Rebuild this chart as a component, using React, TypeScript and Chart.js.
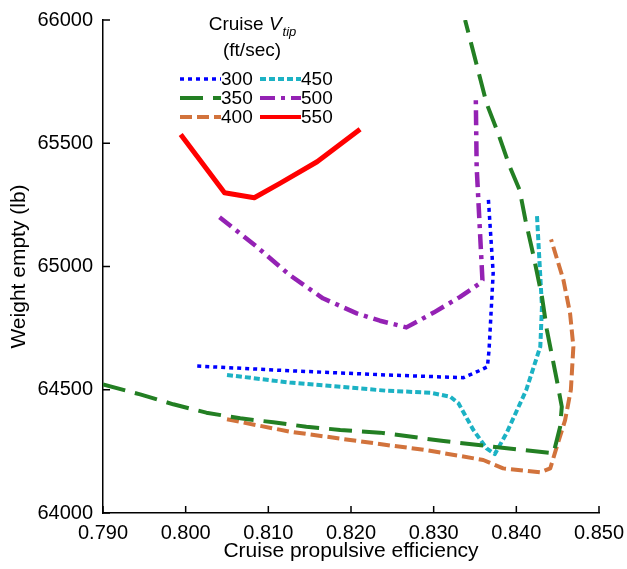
import React, { useEffect, useRef } from 'react';
import { Chart, registerables } from 'chart.js';

Chart.register(...registerables);

const seriesLabels = ['300', '350', '400', '450', '500', '550'];

const x300 = [0.8014, 0.8126, 0.8243, 0.8336, 0.8355, 0.8365, 0.8367, 0.8372, 0.8366];
const y300 = [64596, 64577, 64560, 64549, 64577, 64593, 64661, 64974, 65282];

const x350 = [0.790, 0.7945, 0.7985, 0.8025, 0.8066, 0.8106, 0.8146, 0.8187, 0.8235, 0.8312, 0.8372, 0.8445, 0.8453, 0.8455, 0.8449, 0.8437, 0.8431, 0.8421, 0.8411, 0.8404, 0.8392, 0.8378, 0.8364, 0.8338];
const y350 = [64522, 64481, 64441, 64407, 64384, 64368, 64350, 64337, 64326, 64292, 64269, 64242, 64350, 64431, 64539, 64742, 64877, 65040, 65189, 65310, 65405, 65540, 65662, 66000];

const x400 = [0.8050, 0.8126, 0.8243, 0.8291, 0.8360, 0.8384, 0.8429, 0.8441, 0.8449, 0.8459, 0.8466, 0.8469, 0.8465, 0.8457, 0.8442];
const y400 = [64380, 64330, 64276, 64255, 64215, 64181, 64165, 64181, 64269, 64377, 64500, 64675, 64810, 64945, 65110];

const x450 = [0.8050, 0.8126, 0.8243, 0.8296, 0.8320, 0.8330, 0.8348, 0.8364, 0.8374, 0.8388, 0.8412, 0.8429, 0.8431, 0.8429, 0.8425];
const y450 = [64560, 64529, 64496, 64488, 64472, 64445, 64337, 64262, 64239, 64323, 64499, 64675, 64837, 64959, 65205];

const x500 = [0.8041, 0.8086, 0.8126, 0.8166, 0.8207, 0.8235, 0.8267, 0.8300, 0.8332, 0.8356, 0.8359, 0.8352, 0.8351];
const y500 = [65200, 65080, 64965, 64871, 64810, 64780, 64753, 64813, 64877, 64932, 64945, 65404, 65675];

const x550 = [0.7994, 0.8047, 0.8083, 0.8114, 0.8159, 0.8211];
const y550 = [65536, 65299, 65279, 65337, 65425, 65557];

const xTicks = [0.79, 0.8, 0.81, 0.82, 0.83, 0.84, 0.85];
const yTicks = [64000, 64500, 65000, 65500, 66000];

const FONT = '"Liberation Sans", Arial, Helvetica, sans-serif';

const styles = [
  { color: '#0000ff', width: 3.5, dash: [4, 4] },
  { color: '#237f23', width: 4, dash: [23, 10] },
  { color: '#d2733c', width: 4, dash: [12, 5] },
  { color: '#1cb2c4', width: 4, dash: [6, 3] },
  { color: '#9422b4', width: 4.5, dash: [15, 6, 4, 6] },
  { color: '#ff0000', width: 5, dash: [] as number[] },
];

const xs = [x300, x350, x400, x450, x500, x550];
const ys = [y300, y350, y400, y450, y500, y550];

const inwardTicks = {
  id: 'inwardTicks',
  afterDraw(chart: any) {
    const ctx = chart.ctx;
    const xsc = chart.scales.x;
    const ysc = chart.scales.y;
    const area = chart.chartArea;
    ctx.save();
    ctx.strokeStyle = '#000';
    ctx.lineWidth = 1.5;
    ctx.beginPath();
    xTicks.forEach((v) => {
      const px = xsc.getPixelForValue(v);
      ctx.moveTo(px, area.bottom);
      ctx.lineTo(px, area.bottom - 7);
    });
    yTicks.forEach((v) => {
      const py = ysc.getPixelForValue(v);
      ctx.moveTo(area.left, py);
      ctx.lineTo(area.left + 7, py);
    });
    ctx.stroke();
    ctx.restore();
  },
};

const customLegend = {
  id: 'customLegend',
  afterDraw(chart: any) {
    const ctx = chart.ctx;
    const area = chart.chartArea;
    const cx = area.left + 149;
    ctx.save();
    ctx.fillStyle = '#000';
    ctx.textBaseline = 'middle';
    const f1 = `19px ${FONT}`;
    const fi = `italic 19px ${FONT}`;
    const fs = `italic 13px ${FONT}`;
    ctx.font = f1;
    const w1 = ctx.measureText('Cruise ').width;
    ctx.font = fi;
    const w2 = ctx.measureText('V').width;
    ctx.font = fs;
    const w3 = ctx.measureText('tip').width;
    let tx = cx - (w1 + w2 + w3) / 2;
    const ty = area.top + 5;
    ctx.textAlign = 'left';
    ctx.font = f1;
    ctx.fillText('Cruise ', tx, ty);
    tx += w1;
    ctx.font = fi;
    ctx.fillText('V', tx, ty);
    tx += w2 + 1;
    ctx.font = fs;
    ctx.fillText('tip', tx, ty + 7);
    ctx.font = f1;
    ctx.textAlign = 'center';
    ctx.fillText('(ft/sec)', cx, area.top + 31);
    ctx.textAlign = 'left';
    const rowY0 = area.top + 59;
    const rowH = 19;
    chart.data.datasets.forEach((ds: any, i: number) => {
      const col = i < 3 ? 0 : 1;
      const row = i % 3;
      const lx = area.left + 77 + col * 80;
      const ly = rowY0 + row * rowH;
      ctx.save();
      ctx.strokeStyle = ds.borderColor;
      ctx.lineWidth = Math.min(ds.borderWidth, 4);
      ctx.setLineDash(ds.borderDash || []);
      ctx.beginPath();
      ctx.moveTo(lx, ly);
      ctx.lineTo(lx + 41, ly);
      ctx.stroke();
      ctx.restore();
      ctx.font = f1;
      ctx.fillStyle = '#000';
      ctx.fillText(ds.label, lx + 41, ly + 1);
    });
    ctx.restore();
  },
};

export default function App() {
  const ref = useRef<HTMLCanvasElement | null>(null);
  useEffect(() => {
    document.body.style.margin = '0';
    if (!ref.current) return;
    const datasets = seriesLabels.map((label, i) => ({
      label,
      data: xs[i].map((x, j) => ({ x, y: ys[i][j] })),
      borderColor: styles[i].color,
      backgroundColor: styles[i].color,
      borderWidth: styles[i].width,
      borderDash: styles[i].dash,
      borderJoinStyle: 'round' as const,
      borderCapStyle: 'butt' as const,
      pointRadius: 0,
      fill: false,
      tension: 0,
    }));
    const chart = new Chart(ref.current, {
      type: 'line',
      data: { datasets },
      options: {
        animation: false,
        responsive: false,
        maintainAspectRatio: false,
        layout: { padding: { left: 0, right: 28, top: 20, bottom: 0 } },
        plugins: { legend: { display: false }, tooltip: { enabled: false } },
        scales: {
          x: {
            type: 'linear',
            min: 0.79,
            max: 0.85,
            afterFit: (s: any) => { s.height = 56; s.paddingLeft = 0; s.paddingRight = 0; },
            afterBuildTicks: (s: any) => { s.ticks = xTicks.map((v) => ({ value: v })); },
            ticks: {
              color: '#000',
              font: { family: FONT, size: 20 },
              padding: 8,
              maxRotation: 0,
              callback: (v: any) => Number(v).toFixed(3),
            },
            grid: { display: true, drawOnChartArea: false, drawTicks: false },
            border: { display: true, color: '#000', width: 1.5 },
            title: {
              display: true,
              text: 'Cruise propulsive efficiency',
              color: '#000',
              font: { family: FONT, size: 21 },
              padding: { top: 0, bottom: 5 },
            },
          },
          y: {
            type: 'linear',
            min: 64000,
            max: 66000,
            afterFit: (s: any) => { s.width = 103; s.paddingTop = 0; s.paddingBottom = 0; },
            afterBuildTicks: (s: any) => { s.ticks = yTicks.map((v) => ({ value: v })); },
            ticks: {
              color: '#000',
              font: { family: FONT, size: 20 },
              padding: 10,
              callback: (v: any) => String(v),
            },
            grid: { display: true, drawOnChartArea: false, drawTicks: false },
            border: { display: true, color: '#000', width: 1.5 },
            title: {
              display: true,
              text: 'Weight empty (lb)',
              color: '#000',
              font: { family: FONT, size: 21 },
              padding: { top: 7, bottom: 0 },
            },
          },
        },
      },
      plugins: [inwardTicks, customLegend],
    });
    return () => chart.destroy();
  }, []);
  return (
    <div style={{ width: 627, height: 569 }}>
      <canvas ref={ref} width={627} height={569} style={{ display: 'block' }} />
    </div>
  );
}
